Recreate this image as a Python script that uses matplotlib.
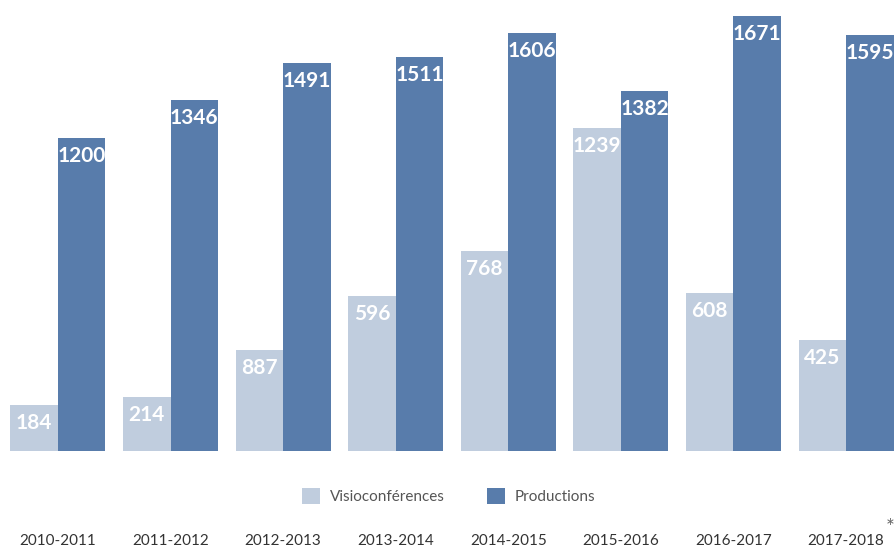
import matplotlib.pyplot as plt
import numpy as np

# années
annees = ["2010-2011", "2011-2012", "2012-2013", "2013-2014",
          "2014-2015", "2015-2016", "2016-2017", "2017-2018"]

# hauteurs des barres (la barre 2012-2013 est plus basse que son étiquette)
visio = [176, 207, 388, 596, 768, 1239, 608, 425]
visio_labels = ["184", "214", "887", "596", "768", "1239", "608", "425"]
productions = [1200, 1346, 1491, 1511, 1606, 1382, 1671, 1595]

c_visio = "#C0CDDE"
c_prod = "#587CAB"

plt.rcParams['font.family'] = ['Lato', 'DejaVu Sans']

fig = plt.figure(figsize=(8.96, 5.48), dpi=100)
ax = fig.add_axes([0, 97 / 548, 1, 451 / 548])

x = np.arange(len(annees))
w = 0.422
b1 = ax.bar(x - w / 2, visio, w, color=c_visio, label="Visioconférences")
b2 = ax.bar(x + w / 2, productions, w, color=c_prod, label="Productions")

# étiquettes blanches en haut des barres
for bars, labels in [(b1, visio_labels), (b2, [str(v) for v in productions])]:
    for bar, lab in zip(bars, labels):
        ax.annotate(lab, (bar.get_x() + bar.get_width() / 2, bar.get_height()),
                    xytext=(0, -13), textcoords="offset points",
                    ha="center", va="center", color="white",
                    fontsize=15, fontweight="bold")

ax.set_xlim(-0.515, 7.444)
ax.set_ylim(0, 1731)
ax.set_xticks(x)
ax.set_xticklabels(annees, fontsize=11, color="#333333")
ax.tick_params(axis='x', length=0, pad=60)
ax.set_yticks([])
for s in ax.spines.values():
    s.set_visible(False)

ax.legend(loc="center", bbox_to_anchor=(449 / 896, 52 / 548),
          bbox_transform=fig.transFigure, ncol=2, frameon=False,
          fontsize=11, labelcolor="#555555", handlelength=1.18,
          handleheight=1.18, columnspacing=2.75, handletextpad=0.65)

fig.text(890 / 896, 1 - 528 / 548, "*", ha="center", va="center",
         fontsize=15, color="#666666")

fig.savefig("out.png", dpi=100)
